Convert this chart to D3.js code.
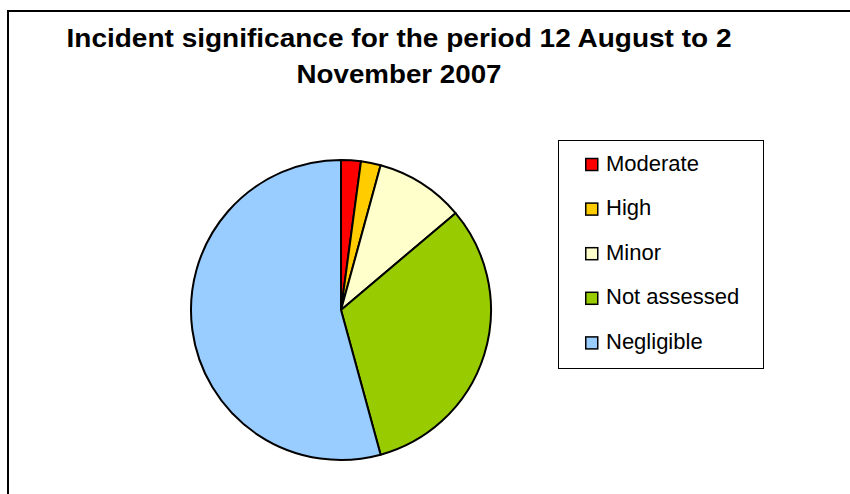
<!DOCTYPE html>
<html>
<head>
<meta charset="utf-8">
<script src="https://cdn.jsdelivr.net/npm/d3@7"></script>
<style>
  body { margin: 0; background: #fff; }
  svg { display: block; font-family: Arial, "Liberation Sans", sans-serif; }
</style>
</head>
<body>
<svg id="chart" width="850" height="494"></svg>
<script>
// data (counts, clockwise from 12 o'clock)
const categories = ['Moderate', 'High', 'Minor', 'Not assessed', 'Negligible'];
const counts = [2, 2, 9, 30, 51];
const colors = ['#ff0000', '#ffcc00', '#ffffcc', '#99cc00', '#99ccff'];
const titleLines = ['Incident significance for the period 12 August to 2', 'November 2007'];
const titleWidths = [665, 205];

const svg = d3.select('#chart');

// outer chart frame (only top and left edges are visible in the crop)
svg.append('path')
    .attr('d', 'M8,494 L8,11 L850,11')
    .attr('fill', 'none')
    .attr('stroke', '#000')
    .attr('stroke-width', 2);

// title
svg.append('g')
    .selectAll('text')
    .data(titleLines)
    .enter().append('text')
    .attr('x', 399)
    .attr('y', (d, i) => 47 + i * 36)
    .attr('text-anchor', 'middle')
    .attr('font-weight', 'bold')
    .attr('font-size', 26)
    .attr('textLength', (d, i) => titleWidths[i])
    .attr('lengthAdjust', 'spacingAndGlyphs')
    .text(d => d);

// pie
const cx = 341, cy = 310, radius = 150;
const pie = d3.pie().sort(null).value(d => d.value);
const arc = d3.arc().innerRadius(0).outerRadius(radius);
const data = categories.map((c, i) => ({ name: c, value: counts[i] }));

const color = d3.scaleOrdinal().domain(categories).range(colors);

svg.append('g')
    .attr('transform', `translate(${cx},${cy})`)
    .selectAll('path')
    .data(pie(data))
    .enter().append('path')
    .attr('d', arc)
    .attr('fill', d => color(d.data.name))
    .attr('stroke', '#000')
    .attr('stroke-width', 2)
    .attr('stroke-linejoin', 'round');

// legend
const legend = svg.append('g');
legend.append('rect')
    .attr('x', 558.5).attr('y', 140.5)
    .attr('width', 205).attr('height', 228)
    .attr('fill', '#fff')
    .attr('stroke', '#000')
    .attr('stroke-width', 1);

const item = legend.selectAll('g.item')
    .data(categories)
    .enter().append('g')
    .attr('class', 'item')
    .attr('transform', (d, i) => `translate(585,${164.5 + i * 44.6})`);

item.append('rect')
    .attr('x', 0.75).attr('y', -6)
    .attr('width', 12).attr('height', 12)
    .attr('fill', d => color(d))
    .attr('stroke', '#000')
    .attr('stroke-width', 1.5);

item.append('text')
    .attr('x', 21)
    .attr('y', 6)
    .attr('font-size', 22)
    .text(d => d);
</script>
</body>
</html>
